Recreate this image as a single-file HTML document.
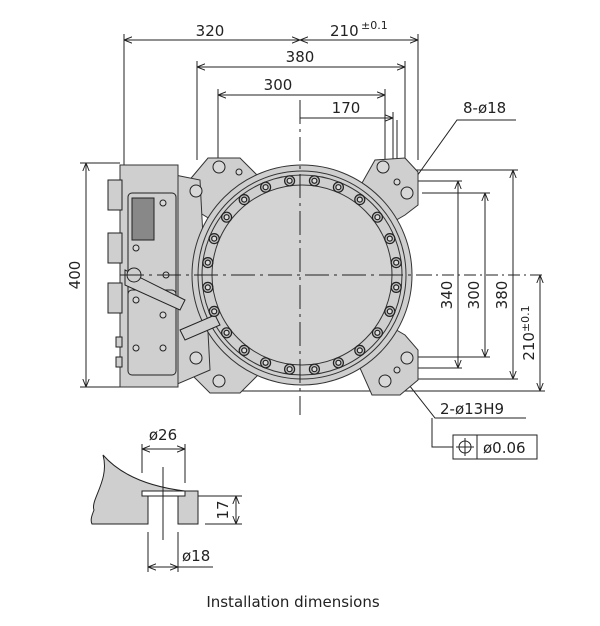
<!DOCTYPE html>
<html><head><meta charset="utf-8"><style>
html,body{margin:0;padding:0;background:#fff}
svg{display:block}
text{font-family:"DejaVu Sans","Liberation Sans",sans-serif;fill:#222}
</style></head><body>
<svg width="600" height="626" viewBox="0 0 600 626" xmlns="http://www.w3.org/2000/svg">
<defs>
<marker id="a" viewBox="0 0 10 10" refX="10" refY="5" markerWidth="8" markerHeight="8" orient="auto-start-reverse"><path d="M0,1 L10,5 L0,9" fill="none" stroke="#222" stroke-width="1.2"/></marker>
</defs>
<g stroke="#222" stroke-width="1" fill="none">
<line x1="124" y1="34" x2="124" y2="165"/>
<line x1="418" y1="34" x2="418" y2="160"/>
<line x1="197" y1="61" x2="197" y2="160"/>
<line x1="405" y1="61" x2="405" y2="160"/>
<line x1="218" y1="89" x2="218" y2="168"/>
<line x1="385" y1="89" x2="385" y2="165"/>
<line x1="393" y1="112" x2="393" y2="175"/>
<line x1="397" y1="120" x2="397" y2="178"/>
<line x1="124" y1="40" x2="300" y2="40" marker-start="url(#a)" marker-end="url(#a)"/>
<line x1="300" y1="40" x2="418" y2="40" marker-start="url(#a)" marker-end="url(#a)"/>
<line x1="197" y1="67" x2="405" y2="67" marker-start="url(#a)" marker-end="url(#a)"/>
<line x1="218" y1="95" x2="385" y2="95" marker-start="url(#a)" marker-end="url(#a)"/>
<line x1="300" y1="118" x2="393" y2="118" marker-end="url(#a)"/>
<line x1="405" y1="170" x2="518" y2="170"/>
<line x1="410" y1="181" x2="462" y2="181"/>
<line x1="422" y1="193" x2="490" y2="193"/>
<line x1="410" y1="357" x2="490" y2="357"/>
<line x1="410" y1="368" x2="462" y2="368"/>
<line x1="405" y1="379" x2="518" y2="379"/>
<line x1="240" y1="391" x2="545" y2="391"/>
<line x1="420" y1="275" x2="545" y2="275" stroke-dasharray="12,4,2,4"/>
<line x1="458" y1="181" x2="458" y2="368" marker-start="url(#a)" marker-end="url(#a)"/>
<line x1="485" y1="193" x2="485" y2="357" marker-start="url(#a)" marker-end="url(#a)"/>
<line x1="513" y1="170" x2="513" y2="379" marker-start="url(#a)" marker-end="url(#a)"/>
<line x1="540" y1="275" x2="540" y2="391" marker-start="url(#a)" marker-end="url(#a)"/>
<line x1="80" y1="163" x2="120" y2="163"/>
<line x1="80" y1="387" x2="120" y2="387"/>
<line x1="86" y1="163" x2="86" y2="387" marker-start="url(#a)" marker-end="url(#a)"/>
</g>
<text x="210" y="36" font-size="15" text-anchor="middle">320</text>
<text x="330" y="36" font-size="15">210</text><text x="361" y="29" font-size="11">±0.1</text>
<text x="300" y="62" font-size="15" text-anchor="middle">380</text>
<text x="278" y="90" font-size="15" text-anchor="middle">300</text>
<text x="346" y="113" font-size="15" text-anchor="middle">170</text>
<text x="463" y="113" font-size="15">8-ø18</text>
<text font-size="15" transform="translate(80,275) rotate(-90)" text-anchor="middle">400</text>
<text font-size="15" transform="translate(452,295) rotate(-90)" text-anchor="middle">340</text>
<text font-size="15" transform="translate(479,295) rotate(-90)" text-anchor="middle">300</text>
<text font-size="15" transform="translate(507,295) rotate(-90)" text-anchor="middle">380</text>
<text font-size="15" transform="translate(534,333) rotate(-90)" text-anchor="middle">210<tspan font-size="11" dy="-5">±0.1</tspan></text>
<g stroke="#222" fill="none"><polyline points="516,120 457,120 412,183"/><polyline points="526,418 435,418 398,371"/><polyline points="432,418 432,447 453,447"/></g>
<text x="440" y="414" font-size="15">2-ø13H9</text>
<rect x="453" y="435" width="84" height="24" fill="none" stroke="#222"/>
<line x1="477" y1="435" x2="477" y2="459" stroke="#222"/>
<circle cx="465" cy="447" r="6" fill="none" stroke="#222"/><line x1="456" y1="447" x2="474" y2="447" stroke="#222"/><line x1="465" y1="438" x2="465" y2="456" stroke="#222"/>
<text x="483" y="453" font-size="15">ø0.06</text>

<g fill="#cfcfcf" stroke="#333" stroke-width="1">
<polygon points="187,183 208,158 240,158 265,183 302,275 187,205"/>
<polygon points="302,275 362,183 375,160 405,158 418,172 418,205 405,215"/>
<polygon points="302,275 405,335 418,350 418,380 400,395 372,395 360,368"/>
<polygon points="302,275 187,345 187,370 210,393 240,393 265,368"/>
<path d="M175,175 L200,180 L210,370 L175,385 Z"/>
<circle cx="302" cy="275" r="110"/>
<rect x="120" y="165" width="58" height="222"/>
<circle cx="302" cy="275" r="104" fill="none"/>
<circle cx="302" cy="275" r="100" fill="none"/>
<circle cx="302" cy="275" r="90" fill="#d3d3d3"/>
</g>
<g fill="#cfcfcf" stroke="#222" stroke-width="1">
<rect x="108" y="180" width="14" height="30"/><rect x="108" y="233" width="14" height="30"/><rect x="108" y="283" width="14" height="30"/>
<rect x="116" y="337" width="6" height="10"/><rect x="116" y="357" width="6" height="10"/>
<rect x="128" y="193" width="48" height="108" rx="4"/>
<rect x="132" y="198" width="22" height="42" fill="#888"/>
<rect x="128" y="290" width="48" height="85" rx="4"/>
<path d="M125,270 L185,300 L180,310 L125,285 Z"/>
<circle cx="134" cy="275" r="7"/>
<path d="M180,330 L215,315 L220,325 L185,340 Z"/>
</g>
<g fill="#d8d8d8" stroke="#222">
<circle cx="219" cy="167" r="6"/><circle cx="196" cy="191" r="6"/>
<circle cx="383" cy="167" r="6"/><circle cx="407" cy="193" r="6"/>
<circle cx="407" cy="358" r="6"/><circle cx="385" cy="381" r="6"/>
<circle cx="196" cy="358" r="6"/><circle cx="219" cy="381" r="6"/>
<circle cx="239" cy="172" r="3"/><circle cx="397" cy="182" r="3"/><circle cx="397" cy="370" r="3"/>
<circle cx="163" cy="203" r="3"/><circle cx="136" cy="248" r="3"/><circle cx="166" cy="275" r="3"/><circle cx="136" cy="300" r="3"/><circle cx="163" cy="315" r="3"/><circle cx="136" cy="348" r="3"/><circle cx="163" cy="348" r="3"/>
</g>
<g fill="#bbb" stroke="#222" stroke-width="1.2" id="bolts"></g>
<g stroke="#222" stroke-width="1" fill="none" stroke-dasharray="24,5,3,5">
<line x1="300" y1="100" x2="300" y2="415"/>
<line x1="120" y1="275" x2="420" y2="275"/>
</g>

<g stroke="#222" stroke-width="1">
<path d="M103,455 C110,480 90,500 94,510 C92,515 90,520 92,524 L148,524 L148,496 L142,496 L142,491 L185,491 C160,488 125,480 103,455 Z" fill="#cfcfcf"/>
<rect x="178" y="491" width="20" height="33" fill="#cfcfcf"/>
<rect x="142" y="491" width="43" height="5" fill="#fff"/>
<line x1="148" y1="496" x2="148" y2="524"/>
<line x1="178" y1="496" x2="178" y2="524"/>
<g fill="none">
<line x1="142" y1="444" x2="142" y2="473"/><line x1="185" y1="444" x2="185" y2="483"/>
<line x1="142" y1="449" x2="185" y2="449" marker-start="url(#a)" marker-end="url(#a)"/>
<line x1="163" y1="467" x2="163" y2="540"/>
<line x1="198" y1="496" x2="242" y2="496"/><line x1="205" y1="524" x2="242" y2="524"/>
<line x1="236" y1="496" x2="236" y2="524" marker-start="url(#a)" marker-end="url(#a)"/>
<line x1="148" y1="532" x2="148" y2="572"/><line x1="178" y1="532" x2="178" y2="572"/>
<line x1="148" y1="567" x2="178" y2="567" marker-start="url(#a)" marker-end="url(#a)"/>
<line x1="178" y1="567" x2="213" y2="567"/>
</g>
</g>
<text x="163" y="440" font-size="15" text-anchor="middle">ø26</text>
<text font-size="15" transform="translate(228,510) rotate(-90)" text-anchor="middle">17</text>
<text x="182" y="561" font-size="15">ø18</text>
<text x="293" y="607" font-size="15" text-anchor="middle" fill="#333">Installation dimensions</text>
</svg>
<script>
var g=document.getElementById('bolts'),s='';
for(var i=0;i<24;i++){var t=(i+0.5)*Math.PI*2/24,x=302+95*Math.cos(t),y=275+95*Math.sin(t);
s+='<circle cx="'+x.toFixed(1)+'" cy="'+y.toFixed(1)+'" r="5"/><circle cx="'+x.toFixed(1)+'" cy="'+y.toFixed(1)+'" r="2.5" fill="#ddd"/>';}
g.innerHTML=s;
</script>
</body></html>
